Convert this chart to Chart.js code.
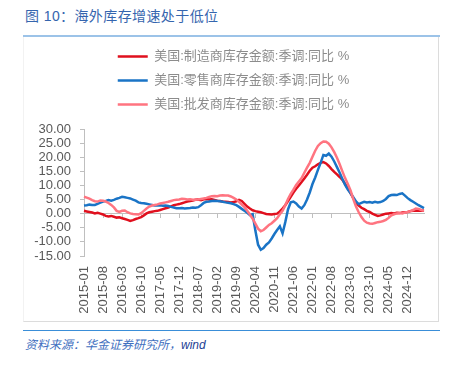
<!DOCTYPE html>
<html>
<head>
<meta charset="utf-8">
<script src="https://cdn.jsdelivr.net/npm/chart.js@4"></script>
<style>
    body { margin: 0; background: #fff; width: 454px; height: 365px; position: relative; overflow: hidden; }
    #title { position: absolute; left: 25px; top: 5px; font-size: 14px; color: #3565ae; letter-spacing: 0.4px;
             font-family: "Liberation Sans", "Noto Sans CJK SC", sans-serif; }
    #topRule { position: absolute; left: 23px; top: 35px; width: 417px; height: 2px; background: #9cc3e8; }
    #box { position: absolute; left: 23px; top: 37px; width: 416px; height: 285px;
           border-right: 1px solid #dcdcdc; border-bottom: 1px solid #dcdcdc; border-left: 1px solid #f2f2f2; box-sizing: border-box; }
    #bottomRule { position: absolute; left: 23px; top: 330px; width: 417px; height: 1px; background: #3a8ed8; }
    #source { position: absolute; left: 25px; top: 335px; font-size: 12px; font-style: italic; color: #3f6fc0;
              font-family: "Liberation Sans", "Noto Sans CJK SC", sans-serif; }
    #source b { font-weight: normal; color: #1f3f94; }
    canvas { position: absolute; left: 23px; top: 37px; }
</style>
</head>
<body>
<div id="title">图 10：海外库存增速处于低位</div>
<div id="topRule"></div>
<div id="box"></div>
<canvas id="chart" width="416" height="285"></canvas>
<div id="bottomRule"></div>
<div id="source">资料来源：华金证券研究所，<b>wind</b></div>
<script>
const seriesNames = [
    "美国:制造商库存金额:季调:同比 %",
    "美国:零售商库存金额:季调:同比 %",
    "美国:批发商库存金额:季调:同比 %"
];

// 2015-01 .. 2025-06, monthly
const manufacturing = [
    1.0, 0.8, 0.6, 0.4, 0.1, 0.3, 0.0, -0.3, -0.8, -1.0, -0.8, -1.1,
    -1.4, -1.3, -1.6, -1.9, -2.2, -2.6, -2.3, -1.9, -1.6, -1.2, -0.6, 0.1,
    0.5, 0.7, 0.9, 1.0, 1.3, 1.6, 1.9, 2.2, 2.6, 3.0, 3.2, 3.4,
    3.7, 4.0, 4.3, 4.5, 4.7, 4.9, 5.0, 4.8, 5.1, 5.2, 5.0, 5.1,
    4.9, 4.6, 4.5, 4.3, 4.2, 4.1, 4.0, 4.1, 4.4, 4.9, 4.5, 3.5,
    2.5, 1.8, 1.2, 0.9, 0.7, 0.5, 0.2, -0.1, -0.2, -0.3, -0.1, 0.0,
    0.8, 1.8, 3.0, 4.5, 6.0, 7.5, 8.8, 10.0, 11.2, 12.5, 13.8, 15.2,
    16.3, 16.8, 17.5, 18.0, 18.3, 17.8, 16.9, 15.8, 14.8, 13.9, 13.0, 12.0,
    10.5, 9.0, 7.3, 5.5, 4.0, 2.9, 2.1, 1.6, 1.0, 0.6, 0.0, -0.4,
    -0.8, -0.6, -0.3, 0.0, 0.1, 0.2, 0.1, 0.3, 0.2, 0.4, 0.5, 0.6,
    0.9, 1.0, 1.1, 1.0, 1.0, 1.1
];
const retail = [
    2.9, 3.0, 3.2, 3.1, 3.1, 3.5, 3.9, 4.3, 4.5, 4.8, 4.6, 4.9,
    5.3, 5.6, 6.0, 5.8, 5.6, 5.4, 5.0, 4.6, 4.0, 3.8, 3.7, 3.5,
    3.3, 3.1, 2.9, 2.9, 3.0, 2.8, 2.9, 2.7, 2.4, 2.2, 1.9, 1.9,
    2.0, 1.8, 1.9, 2.0, 2.2, 2.1, 2.3, 3.0, 3.8, 4.2, 4.3, 4.5,
    4.6, 4.5, 4.4, 4.2, 4.0, 3.9, 3.7, 3.4, 3.0, 2.4, 1.7, 1.0,
    0.3, -0.5, -0.2, -6.0, -11.0, -12.8, -12.2, -11.0, -10.2, -8.8, -7.2, -5.8,
    -4.5, -7.0, -3.0, 1.5, 4.0, 4.3, 3.6, 2.5, 1.8, 3.0, 5.0, 7.5,
    10.5, 12.8, 15.5, 18.0, 20.8, 20.5, 21.3, 20.2, 18.5, 16.5, 14.5, 12.3,
    10.2, 8.5, 7.2, 5.8, 4.3, 3.4, 3.8, 4.2, 4.0, 4.1, 3.9, 4.2,
    4.0, 4.1, 4.5, 5.2, 6.2, 6.6, 6.7, 6.6, 7.0, 7.2, 6.4, 5.5,
    4.8, 4.2, 3.6, 3.0, 2.5, 2.0
];
const wholesale = [
    6.0, 5.7, 5.3, 4.8, 4.4, 4.3, 4.7, 4.6, 4.3, 3.8, 3.1, 2.2,
    1.0, 0.6, 1.0, 1.1, 0.5, 0.1, -0.1, -0.2, -0.3, 0.2, 1.0, 1.8,
    2.5, 2.9, 3.1, 3.3, 3.6, 3.8, 4.0, 4.2, 4.5, 4.8, 4.9, 5.0,
    5.3, 5.2, 5.0, 5.1, 4.9, 4.9, 5.0, 5.2, 5.4, 5.6, 5.9, 6.2,
    6.3, 6.2, 6.4, 6.5, 6.4, 6.4, 6.1, 5.6, 5.0, 4.2, 3.2, 2.3,
    1.0, -0.3, -1.8, -3.5, -5.3, -6.2, -5.8, -4.9, -4.0, -3.4, -2.5, -1.6,
    -0.2, 1.0, 3.0, 5.2, 7.0, 8.5, 10.2, 11.4, 12.6, 14.5, 16.3, 18.0,
    20.2, 22.3, 24.0, 25.0, 25.6, 25.5, 24.8, 23.5, 21.8, 19.8, 17.5, 15.0,
    12.6, 10.5, 8.2, 5.2, 2.5, 0.5, -1.2, -2.5, -3.2, -3.5, -3.6, -3.3,
    -3.0, -2.9, -2.6, -2.2, -1.5, -0.6, -0.2, 0.1, 0.2, 0.1, 0.4, 0.6,
    0.9, 1.3, 1.8, 1.7, 1.3, 1.0
];
const seriesColors = ["#e0101e", "#1a74c6", "#ff7480"];

const months = [];
for (let i = 0; i < manufacturing.length; i++) {
    const y = 2015 + Math.floor(i / 12);
    const m = (i % 12) + 1;
    months.push(y + "-" + (m < 10 ? "0" + m : m));
}

const latinCjk = '"Liberation Sans", "Noto Sans CJK SC", sans-serif';

// extra room under the legend, and nudge the legend right to sit centred over the figure
const legendTweak = {
    id: "legendTweak",
    beforeInit(chart) {
        const legend = chart.legend;
        const fit = legend.fit;
        const draw = legend.draw;
        legend.fit = function() {
            fit.call(this);
            this.height += 8;
        };
        legend.draw = function() {
            this.left += 10; this.right += 10;
            draw.call(this);
            this.left -= 10; this.right -= 10;
        };
    }
};

new Chart(document.getElementById("chart"), {
    type: "line",
    data: {
        labels: months,
        datasets: [manufacturing, retail, wholesale].map((vals, i) => ({
            label: seriesNames[i],
            data: vals,
            borderColor: seriesColors[i],
            backgroundColor: seriesColors[i],
            borderWidth: 2.5,
            pointRadius: 0,
            order: 3 - i,
            xAxisID: "x",
            yAxisID: "y"
        }))
    },
    plugins: [legendTweak],
    options: {
        responsive: false,
        animation: false,
        layout: { padding: { left: 0, right: 15, top: 2, bottom: 0 } },
        plugins: {
            tooltip: { enabled: false },
            legend: {
                position: "top",
                labels: {
                    boxWidth: 30,
                    boxHeight: 0,
                    padding: 11,
                    color: "#8c8c8c",
                    font: { size: 13, family: latinCjk },
                    sort: (a, b) => a.datasetIndex - b.datasetIndex
                }
            }
        },
        scales: {
            x: {
                type: "category",
                position: { y: 0 },
                ticks: { display: false },
                grid: {
                    drawOnChartArea: false,
                    tickLength: 4,
                    tickColor: ctx => ctx.index % 7 === 0 ? "#bfbfbf" : "rgba(0,0,0,0)"
                },
                border: { color: "#bfbfbf" }
            },
            x2: {
                type: "category",
                position: "bottom",
                grid: { display: false, drawTicks: false },
                border: { display: false },
                afterFit: scale => {
                    scale.height = 66;
                    scale.paddingLeft = 0;
                    scale.paddingRight = 0;
                },
                ticks: {
                    autoSkip: false,
                    minRotation: 90,
                    maxRotation: 90,
                    padding: 10,
                    color: "#595959",
                    font: { size: 13, family: "Liberation Sans" },
                    callback: function(v, i) {
                        return i % 7 === 0 ? this.getLabelForValue(v) : "";
                    }
                }
            },
            y: {
                min: -15,
                max: 30,
                afterFit: scale => { scale.width = 61; },
                ticks: {
                    stepSize: 5,
                    autoSkip: false,
                    padding: 9,
                    color: "#595959",
                    font: { size: 13, family: "Liberation Sans" },
                    callback: v => v.toFixed(2)
                },
                grid: { drawOnChartArea: false, tickLength: 4, tickColor: "#bfbfbf" },
                border: { color: "#bfbfbf" }
            }
        }
    }
});
</script>
</body>
</html>
